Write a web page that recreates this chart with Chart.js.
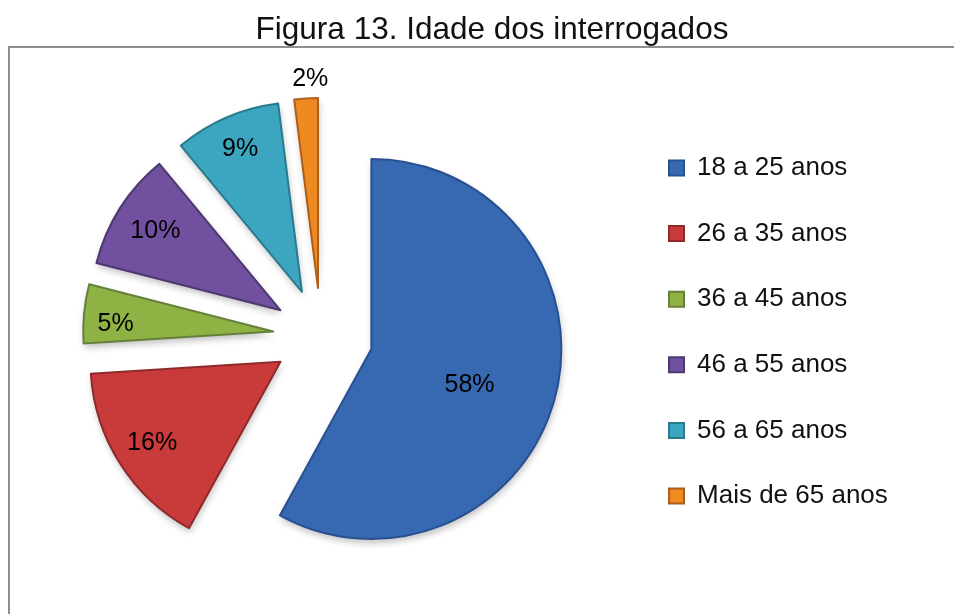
<!DOCTYPE html>
<html>
<head>
<meta charset="utf-8">
<script src="https://cdn.jsdelivr.net/npm/chart.js@4.4.1/dist/chart.umd.min.js"></script>
<style>
  html, body { margin: 0; padding: 0; background: #ffffff; }
  #wrap { width: 954px; height: 614px; position: relative; }
</style>
</head>
<body>
<div id="wrap"><canvas id="c"></canvas></div>
<script>
// ---- data ----
const chartTitle = 'Figura 13. Idade dos interrogados';
const categories = ['18 a 25 anos', '26 a 35 anos', '36 a 45 anos', '46 a 55 anos', '56 a 65 anos', 'Mais de 65 anos'];
const shares = [58, 16, 5, 10, 9, 2];

// ---- styles ----
const sliceColors  = ['#3769b3', '#c93b3a', '#8fb244', '#7150a0', '#3ca6c1', '#ef8a22'];
const sliceBorders = ['#28508f', '#8e2a29', '#65803a', '#4d3870', '#2a7a8e', '#ad5e1a'];
const FONT = '"Liberation Sans", Arial, Helvetica, sans-serif';

// Exploded arc: moves the whole slice outward by its offset, keeping radius and angles
class ExplodedArc extends Chart.ArcElement {
  static id = 'explodedArc';
  draw(ctx) {
    const {x, y, startAngle, endAngle, outerRadius} =
      this.getProps(['x', 'y', 'startAngle', 'endAngle', 'outerRadius']);
    if (!(endAngle - startAngle > 0)) return;
    const o = this.options;
    const mid = (startAngle + endAngle) / 2;
    const d = o.offset || 0;
    const cx = x + Math.cos(mid) * d;
    const cy = y + Math.sin(mid) * d;
    ctx.save();
    ctx.beginPath();
    ctx.moveTo(cx, cy);
    ctx.arc(cx, cy, outerRadius, startAngle, endAngle);
    ctx.closePath();
    ctx.shadowColor = 'rgba(0,0,0,0.25)';
    ctx.shadowBlur = 7;
    ctx.shadowOffsetX = 1;
    ctx.shadowOffsetY = 4;
    ctx.fillStyle = o.backgroundColor;
    ctx.fill();
    ctx.shadowColor = 'rgba(0,0,0,0)';
    if (o.borderWidth > 0) {
      ctx.lineWidth = o.borderWidth;
      ctx.strokeStyle = o.borderColor;
      ctx.lineJoin = 'round';
      ctx.stroke();
    }
    ctx.restore();
  }
}
class ExplodedPieController extends Chart.PieController {
  static id = 'explodedPie';
  static defaults = { dataElementType: 'explodedArc' };
}
Chart.register(ExplodedArc, ExplodedPieController);

// frame + title
const framePlugin = {
  id: 'frameTitle',
  beforeDraw(chart, args, opts) {
    const ctx = chart.ctx;
    ctx.save();
    ctx.strokeStyle = opts.borderColor;
    ctx.lineWidth = 2;
    ctx.strokeRect(9, 47, 1000, 700);
    ctx.restore();
  },
  afterDraw(chart, args, opts) {
    const ctx = chart.ctx;
    ctx.save();
    ctx.font = opts.font;
    ctx.fillStyle = opts.color;
    ctx.textAlign = 'center';
    ctx.textBaseline = 'alphabetic';
    ctx.fillText(opts.text, opts.x, opts.y);
    ctx.restore();
  }
};

// percentage labels on slices
const sliceLabelPlugin = {
  id: 'sliceLabels',
  afterDatasetsDraw(chart, args, opts) {
    const meta = chart.getDatasetMeta(0);
    const ctx = chart.ctx;
    ctx.save();
    ctx.font = opts.font;
    ctx.fillStyle = opts.color;
    ctx.textAlign = 'center';
    ctx.textBaseline = 'middle';
    meta.data.forEach((arc, i) => {
      const {x, y, startAngle, endAngle, outerRadius} =
        arc.getProps(['x', 'y', 'startAngle', 'endAngle', 'outerRadius']);
      const mid = (startAngle + endAngle) / 2 + opts.turn[i] * Math.PI / 180;
      const d = (arc.options.offset || 0) + opts.radial[i] * outerRadius;
      ctx.fillText(shares[i] + '%', x + Math.cos(mid) * d, y + Math.sin(mid) * d);
    });
    ctx.restore();
  }
};

new Chart(document.getElementById('c'), {
  type: 'explodedPie',
  data: {
    labels: categories,
    datasets: [{
      data: shares,
      backgroundColor: sliceColors,
      borderColor: sliceBorders,
      borderWidth: 2,
      offset: [52, 48, 48, 48, 48, 48],
      radius: 190
    }]
  },
  options: {
    responsive: true,
    maintainAspectRatio: false,
    animation: false,
    events: [],
    layout: { padding: { left: 12.6, right: 56.2, top: 115.4, bottom: 57.4 } },
    plugins: {
      title: { display: false },
      tooltip: { enabled: false },
      legend: {
        display: true,
        position: 'right',
        align: 'start',
        labels: {
          font: { family: FONT, size: 26 },
          color: '#111111',
          boxWidth: 15,
          boxHeight: 15,
          padding: 39.6
        }
      },
      frameTitle: {
        text: chartTitle,
        font: '31.5px ' + FONT,
        color: '#111111',
        x: 492,
        y: 39,
        borderColor: '#8f8f8f'
      },
      sliceLabels: {
        font: '25px ' + FONT,
        color: '#000000',
        radial: [0.55, 0.8, 0.83, 0.78, 0.82, 1.1],
        turn: [4, 0, -2, 0, 0, 1.2]
      }
    }
  },
  plugins: [framePlugin, sliceLabelPlugin]
});
</script>
</body>
</html>
